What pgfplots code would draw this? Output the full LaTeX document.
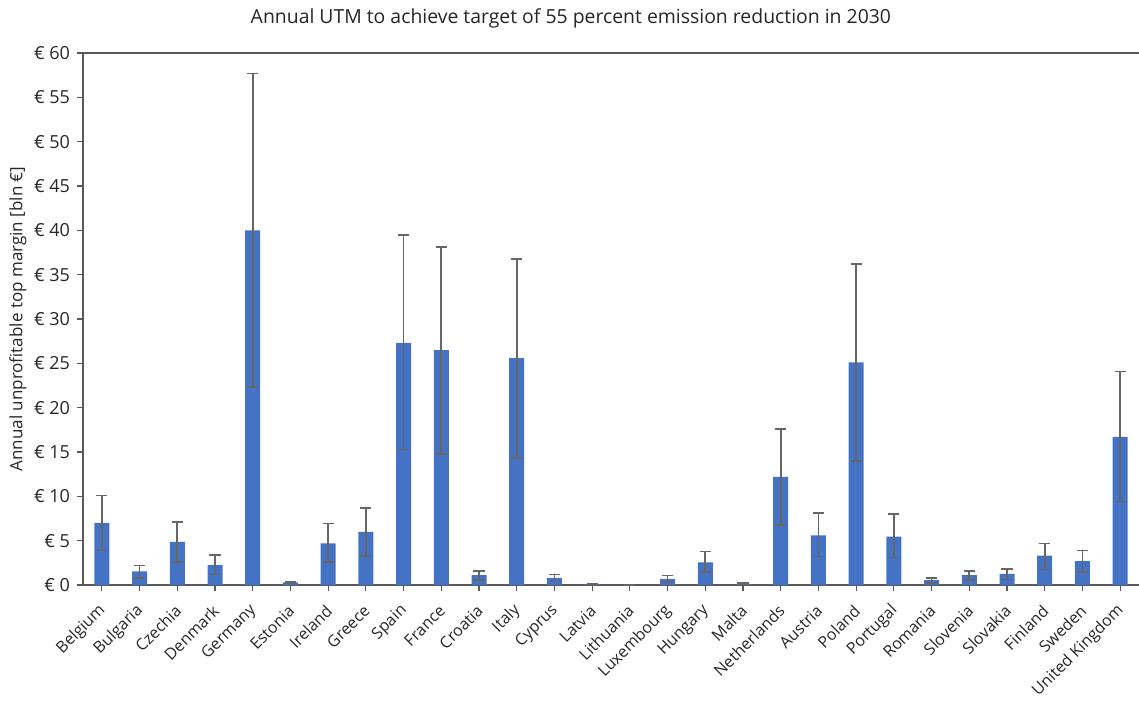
\documentclass[border=0pt]{standalone}
\usepackage{pgfplots}
\pgfplotsset{compat=1.18}
\usepackage{pgfplotstable}
\usepackage{fontspec}
\setmainfont{Open Sans}
\definecolor{barblue}{HTML}{4472C4}
\definecolor{errgray}{HTML}{666666}
\definecolor{axgray}{HTML}{595959}
\definecolor{txt}{HTML}{262626}
\pgfplotstableread{
x y ep em
0 7.0 3.1 3.1
1 1.55 0.65 0.75
2 4.85 2.25 2.25
3 2.25 1.15 1.05
4 40.0 17.7 17.7
5 0.3 0.1 0.1
6 4.7 2.25 2.1
7 6.0 2.7 2.7
8 27.3 12.2 12.0
9 26.5 11.6 11.7
10 1.1 0.5 0.54
11 25.6 11.2 11.3
12 0.8 0.4 0.3
13 0.1 0.05 0.05
14 0 0 0
15 0.7 0.35 0.33
16 2.55 1.25 1.1
17 0.12 0.1 0.07
18 12.2 5.4 5.4
19 5.6 2.5 2.4
20 25.1 11.1 11.1
21 5.45 2.55 2.35
22 0.55 0.25 0.3
23 1.1 0.5 0.55
24 1.25 0.55 0.65
25 3.3 1.4 1.55
26 2.7 1.2 1.2
27 16.7 7.4 7.3
}\datatable
\begin{document}
\begin{tikzpicture}
\begin{axis}[
  name=ax,
  scale only axis,
  width=528pt, height=266pt,
  xmin=-0.5, xmax=27.5,
  ymin=0, ymax=60,
  axis x line*=bottom,
  axis y line*=left,
  axis line style={axgray, line width=0.7pt},
  tick style={axgray, line width=0.6pt},
  tick align=outside,
  major tick length=3pt,
  xtick=data,
  xticklabels={Belgium,Bulgaria,Czechia,Denmark,Germany,Estonia,Ireland,Greece,Spain,France,Croatia,Italy,Cyprus,Latvia,Lithuania,Luxembourg,Hungary,Malta,Netherlands,Austria,Poland,Portugal,Romania,Slovenia,Slovakia,Finland,Sweden,United Kingdom},
  xticklabel style={yshift=-7pt, xshift=2pt, rotate=45, anchor=east, font=\fontsize{8}{10}\selectfont, text=txt, inner sep=2pt},
  ytick={0,5,...,60},
  yticklabel={€ \pgfmathprintnumber{\tick}},
  /pgf/number format/assume math mode=true,
  yticklabel style={font=\fontsize{9}{10}\selectfont, text=txt},
  ylabel={Annual unprofitable top margin [bln €]},
  ylabel style={at={(axis description cs:-0.0616,0.5)}, anchor=center, font=\fontsize{8.5}{10}\selectfont, text=txt},
  title={Annual UTM to achieve target of 55 percent emission reduction in 2030},
  title style={at={(axis description cs:0.462,1)}, anchor=center, yshift=11.5pt, font=\fontsize{9.7}{11}\selectfont, text=txt},
  ybar, bar width=7.5pt,
  clip=false,
]
\addplot[fill=barblue, draw=none,
  error bars/.cd, y dir=both, y explicit,
  error bar style={errgray, line width=0.8pt},
  error mark options={errgray, line width=0.8pt, mark size=2.8pt, rotate=90}]
  table[x=x, y=y, y error plus=ep, y error minus=em] {\datatable};
\draw[axgray, line width=0.7pt] (axis cs:-0.5,60) -- (axis cs:27.5,60);
\end{axis}
\pgfresetboundingbox
\path ([xshift=-41.5pt, yshift=-58pt]ax.south west) rectangle ([xshift=0pt, yshift=26.5pt]ax.north east);
\end{tikzpicture}
\end{document}
